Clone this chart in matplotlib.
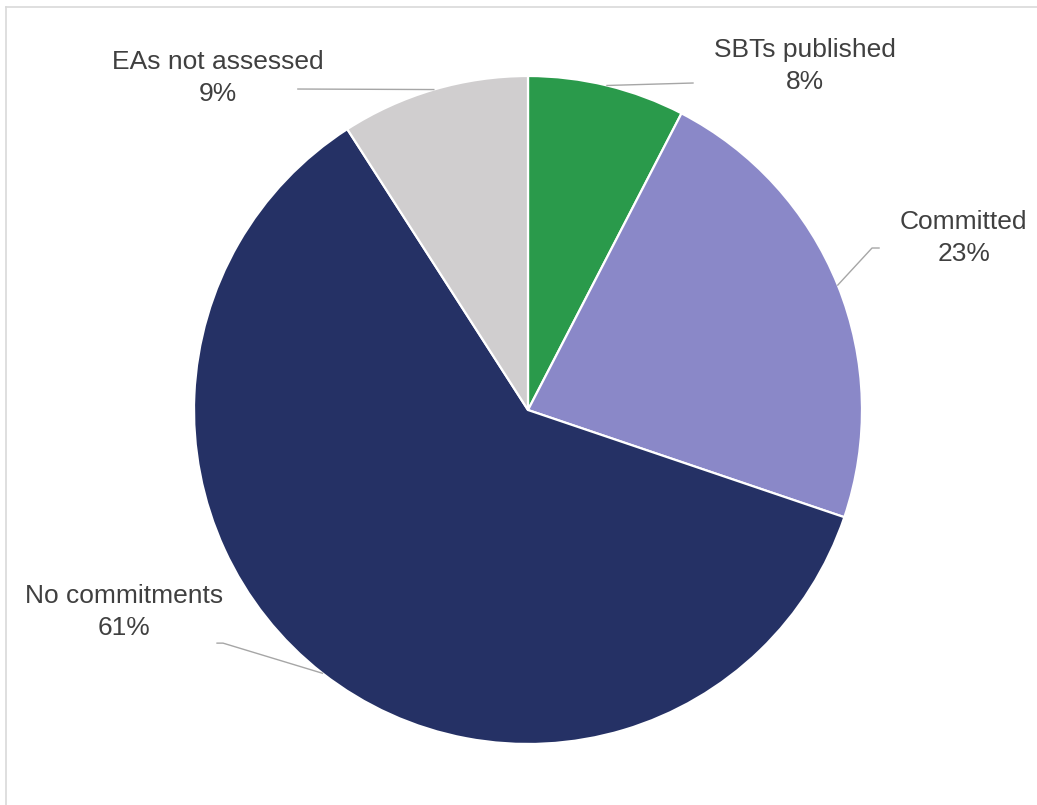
import matplotlib.pyplot as plt
import numpy as np
from matplotlib.lines import Line2D

plt.rcParams['font.family'] = ['Liberation Sans', 'DejaVu Sans']

# data
labels = ['SBTs published', 'Committed', 'No commitments', 'EAs not assessed']
shares = [7.6, 22.6, 60.7, 9.1]
pct_labels = ['8%', '23%', '61%', '9%']
colors = ['#2A9A4B', '#8A88C8', '#253165', '#D0CECF']

# label placement (data coords) and leader line waypoints beyond the wedge edge
text_pos = [(0.829, 1.030), (1.305, 0.515), (-1.21, -0.605), (-0.928, 0.994)]
leader_pts = [
    [(0.494, 0.979)],
    [(1.030, 0.485), (1.051, 0.485)],
    [(-0.913, -0.698), (-0.931, -0.698)],
    [(-0.689, 0.961)],
]

W, H = 1037, 805
fig = plt.figure(figsize=(W / 100, H / 100), dpi=100)
cx, cy, r = 528, 410, 334
ax = fig.add_axes([(cx - r) / W, (H - cy - r) / H, 2 * r / W, 2 * r / H])

wedges, _ = ax.pie(shares, colors=colors, startangle=90, counterclock=False,
                   radius=1, wedgeprops=dict(edgecolor='white', linewidth=1.6))
ax.set_xlim(-1, 1)
ax.set_ylim(-1, 1)
ax.set_aspect('equal')
ax.axis('off')

for w, lab, pct, tp, pts in zip(wedges, labels, pct_labels, text_pos, leader_pts):
    ang = np.deg2rad((w.theta1 + w.theta2) / 2)
    x0, y0 = np.cos(ang), np.sin(ang)
    xs = [x0] + [p[0] for p in pts]
    ys = [y0] + [p[1] for p in pts]
    ax.plot(xs, ys, color='#A6A6A6', lw=1.0, clip_on=False, zorder=3)
    ax.text(tp[0], tp[1], lab + '\n' + pct, ha='center', va='center',
            fontsize=19, color='#404040', linespacing=1.4, clip_on=False)

# frame (only left and top edges visible)
fig.add_artist(Line2D([6 / W, 6 / W], [0, 1 - 7 / H], transform=fig.transFigure,
                      color='#D9D9D9', lw=1.2))
fig.add_artist(Line2D([6 / W, 1], [1 - 7 / H, 1 - 7 / H], transform=fig.transFigure,
                      color='#D9D9D9', lw=1.2))

fig.savefig('out.png', dpi=100, facecolor='white')
